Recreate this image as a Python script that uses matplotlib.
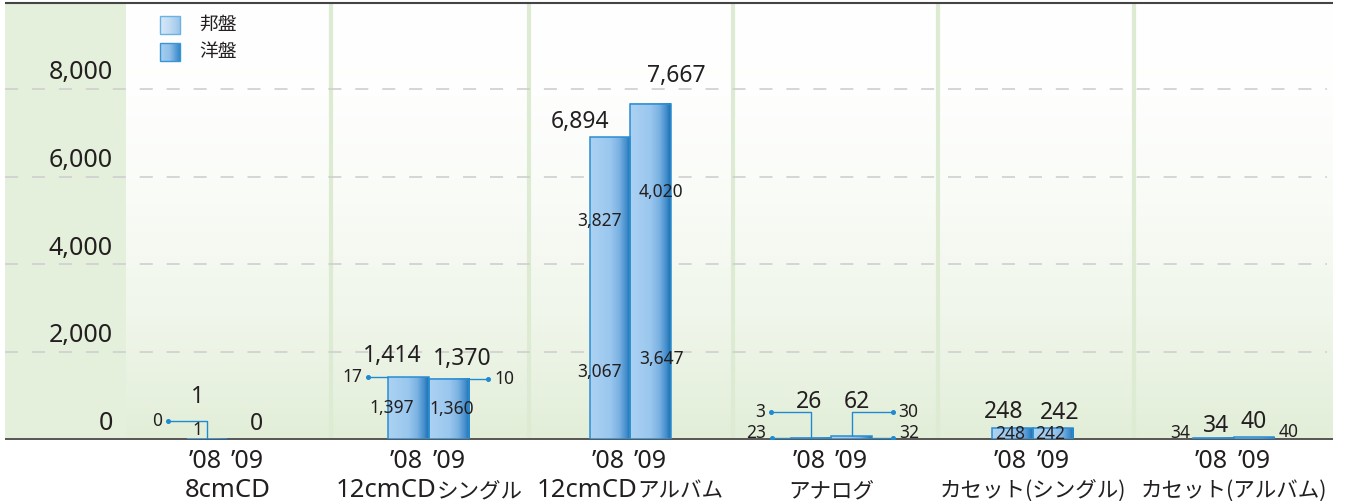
import numpy as np
import matplotlib
matplotlib.use("Agg")
import matplotlib.pyplot as plt
from matplotlib.colors import LinearSegmentedColormap, to_rgb
from matplotlib.patches import Rectangle

plt.rcParams["font.family"] = ["Noto Sans", "Noto Sans CJK JP", "DejaVu Sans"]
plt.rcParams["lines.scale_dashes"] = False

# ---- data -------------------------------------------------------------
categories = ["8cmCD", "12cmCDシングル", "12cmCDアルバム", "アナログ",
              "カセット(シングル)", "カセット(アルバム)"]
years = ["’08", "’09"]
series_names = ["邦盤", "洋盤"]
hoban_08 = [1, 1397, 3067, 23, 248, 34]
hoban_09 = [0, 1360, 3647, 32, 242, 40]
yoban_08 = [0, 17, 3827, 3, 0, 0]
yoban_09 = [0, 10, 4020, 30, 0, 0]
y_ticks = [0, 2000, 4000, 6000, 8000]

hoban = [hoban_08, hoban_09]
yoban = [yoban_08, yoban_09]

# ---- layout (pixels) --------------------------------------------------
W, H = 1363, 501
AX_L, AX_R, AX_T, AX_B = 5, 1333, 4, 439
CAT0, STEP = 227.5, 201.3          # first category centre, category pitch
PX_PER_UNIT = 87.5 / 2000          # vertical pixels per unit value
BW = 40.5 / STEP                   # bar width in category units

TEXT = "#231f20"
BLUE_EDGE = "#2a8dd2"
LEADER = "#1e8bd0"
LATIN_FONT = ["Noto Sans", "DejaVu Sans"]
KANA_FONT = ["Noto Sans CJK JP", "DejaVu Sans"]


def xd(px):
    return (px - CAT0) / STEP


def yd(py):
    return (AX_B - py) / PX_PER_UNIT


fig = plt.figure(figsize=(W / 100, H / 100), dpi=100)
ax = fig.add_axes([AX_L / W, 1 - AX_B / H, (AX_R - AX_L) / W, (AX_B - AX_T) / H])
ax.set_axis_off()
ax.set_autoscale_on(False)
XLIM = (xd(AX_L), xd(AX_R))
YLIM = (0, yd(AX_T))
ax.set_xlim(*XLIM)
ax.set_ylim(*YLIM)

# ---- background -------------------------------------------------------
ax.add_patch(Rectangle((XLIM[0], 0), xd(126) - XLIM[0], YLIM[1],
                       facecolor="#e4f0db", edgecolor="none", zorder=0))
g_top = np.array(to_rgb("#ffffff"))
g_bot = np.array(to_rgb("#e2eed8"))
f = np.linspace(0, 1, 300) ** 1.9
bg = (g_top[None, :] * (1 - f[:, None]) + g_bot[None, :] * f[:, None])[:, None, :]
ax.imshow(bg, extent=(xd(126), XLIM[1], 0, YLIM[1]), origin="upper",
          aspect="auto", interpolation="bilinear", zorder=0)

for sx in [331, 529, 733, 938, 1134]:
    ax.plot([xd(sx)] * 2, [0, YLIM[1]], color="#ddebd3", lw=3.0, zorder=1,
            solid_capstyle="butt")

for v in y_ticks[1:]:
    ax.plot([XLIM[0], xd(1327)], [v, v], color="#cfcfcf", lw=1.2,
            ls=(0, (9.4, 10.0)), zorder=1)

for v in y_ticks:
    ax.annotate(f"{v:,}", (xd(113), v), xytext=(0, 16), textcoords="offset pixels",
                ha="right", va="center", fontsize=18, color=TEXT, zorder=6)

# baseline
ax.plot(XLIM, [0, 0], color="#555555", lw=1.4, zorder=2, clip_on=False,
        solid_capstyle="butt")

# ---- bars -------------------------------------------------------------
bar_cmap = LinearSegmentedColormap.from_list(
    "bar", [(0.0, "#acd2f2"), (0.5, "#9ac7ee"), (0.72, "#7ab2e2"),
            (0.88, "#4891cf"), (1.0, "#1d70ad")])
grad_row = np.linspace(0, 1, 64)[None, :]

x_idx = np.arange(len(categories))
bar_x = [x_idx - BW / 2, x_idx + BW / 2]

for j in range(2):
    bottoms = np.zeros(len(categories))
    for series in (hoban[j], yoban[j]):
        bars = ax.bar(bar_x[j], series, width=BW, bottom=bottoms,
                      color="none", edgecolor="none", zorder=3)
        for rect in bars:
            if rect.get_height() > 0:
                x0 = rect.get_x()
                ax.imshow(grad_row, cmap=bar_cmap, aspect="auto",
                          interpolation="bilinear",
                          extent=(x0, x0 + rect.get_width(), rect.get_y(),
                                  rect.get_y() + rect.get_height()), zorder=3)
        bottoms = bottoms + np.array(series)
    totals = bottoms
    ax.bar(bar_x[j], totals, width=BW, fill=False, linewidth=1.1,
           edgecolor=[BLUE_EDGE if t > 0 else "none" for t in totals], zorder=4)

# total labels above each bar (pixel offsets from bar top)
total_offsets = [
    [(-10, 42), (-16, 21), (-30, 15), (-2, 36), (-9, 16), (2, 12)],
    [(9, 15), (13, 20), (26, 28), (5, 34), (7, 15), (-1, 15)],
]
for j in range(2):
    for i in range(len(categories)):
        tot = hoban[j][i] + yoban[j][i]
        dx, dy = total_offsets[j][i]
        ax.annotate(f"{tot:,}", (bar_x[j][i], tot), xytext=(dx, dy),
                    textcoords="offset pixels", ha="center", va="center",
                    fontsize=16.5, color=TEXT, zorder=6)

# segment labels placed inside the bars
inside_dx = {(1, 0): -17, (1, 1): 3, (2, 0): -10, (2, 1): 11, (4, 0): -2, (4, 1): -3}
for (i, j), dx in inside_dx.items():
    base = 0
    for series in (hoban[j], yoban[j]):
        v = series[i]
        if v >= 100:
            ax.annotate(f"{v:,}", (bar_x[j][i], base + v / 2), xytext=(dx, 0),
                        textcoords="offset pixels", ha="center", va="center",
                        fontsize=12.5, color=TEXT, zorder=6)
        base += v


def to_data(x, y, dx, dy):
    return x + dx / STEP, y + dy / PX_PER_UNIT


def leader(x, y, pts, text, side):
    xs, ys = zip(*[to_data(x, y, dx, dy) for dx, dy in pts])
    ax.plot(xs, ys, color=LEADER, lw=1.0, zorder=8, solid_capstyle="butt")
    ax.plot(xs[-1], ys[-1], "o", ms=2.6, color=LEADER, zorder=8)
    if text:
        ex, ey = pts[-1]
        gap = -6 if side == "left" else 6
        ax.annotate(text, (x, y), xytext=(ex + gap, ey), textcoords="offset pixels",
                    ha="right" if side == "left" else "left", va="center",
                    fontsize=12.5, color=TEXT, zorder=8)


def side_label(x, y, dx, dy, text, ha):
    ax.annotate(text, (x, y), xytext=(dx, dy), textcoords="offset pixels",
                ha=ha, va="center", fontsize=12.5, color=TEXT, zorder=8)


half = BW / 2
# 8cmCD '08
leader(bar_x[0][0], hoban_08[0] + yoban_08[0], [(0, 0), (0, 18), (-39, 18)],
       f"{yoban_08[0]:,}", "left")
side_label(bar_x[0][0], 0, -10, 9, f"{hoban_08[0]:,}", "center")
# 12cmCD single
leader(bar_x[0][1] - half, hoban_08[1] + yoban_08[1], [(0, 0), (-20, 0)],
       f"{yoban_08[1]:,}", "left")
leader(bar_x[1][1] + half, hoban_09[1] + yoban_09[1], [(0, 0), (19, 0)],
       f"{yoban_09[1]:,}", "right")
# analog
leader(bar_x[0][3], hoban_08[3] + yoban_08[3], [(0, 0), (0, 26), (-40, 26)],
       f"{yoban_08[3]:,}", "left")
leader(bar_x[0][3] - half, hoban_08[3], [(0, 0), (-19, 0)], "", "left")
side_label(bar_x[0][3] - half, hoban_08[3], -25, 5, f"{hoban_08[3]:,}", "right")
leader(bar_x[1][3], hoban_09[3] + yoban_09[3], [(0, 0), (0, 24), (41, 24)],
       f"{yoban_09[3]:,}", "right")
leader(bar_x[1][3] + half, hoban_09[3], [(0, 0), (21, 0)], "", "right")
side_label(bar_x[1][3] + half, hoban_09[3], 27, 5, f"{hoban_09[3]:,}", "left")
# cassette album
side_label(bar_x[0][5] - half, hoban_08[5], -3, 5, f"{hoban_08[5]:,}", "right")
side_label(bar_x[1][5] + half, hoban_09[5], 4, 5, f"{hoban_09[5]:,}", "left")

# top rule
ax.plot(XLIM, [yd(3)] * 2, color="#444444", lw=1.5, zorder=7, clip_on=False,
        solid_capstyle="butt")

# ---- category / year labels -------------------------------------------
for i in range(len(categories)):
    for j, yr in enumerate(years):
        ax.annotate(yr, (bar_x[j][i], 0), xytext=(-2 if j == 0 else 0, -22),
                    textcoords="offset pixels", ha="center", va="center",
                    fontsize=18, color=TEXT, annotation_clip=False)


def split_runs(s):
    runs = []
    for ch in s:
        kind = "L" if (ch.isascii() and ch not in "()") else "K"
        if runs and runs[-1][0] == kind:
            runs[-1][1] += ch
        else:
            runs.append([kind, ch])
    return runs


# category names: Latin and kana runs set side by side on one baseline
renderer = fig.canvas.get_renderer()
for i, cat in enumerate(categories):
    pieces = []
    for kind, s in split_runs(cat):
        t = ax.annotate(s, (i, 0), xytext=(0, -58), textcoords="offset pixels",
                        ha="left", va="baseline", color=TEXT,
                        fontsize=18.5 if kind == "L" else 15.5,
                        family=LATIN_FONT if kind == "L" else KANA_FONT,
                        annotation_clip=False)
        pieces.append(t)
    widths = [p.get_window_extent(renderer).width for p in pieces]
    start = -sum(widths) / 2
    for p, w in zip(pieces, widths):
        p.xyann = (start, -58)
        start += w

# ---- legend -----------------------------------------------------------
legend_cmaps = [
    LinearSegmentedColormap.from_list("l0", ["#d8e9f8", "#c0dbf2", "#9cc6ea"]),
    LinearSegmentedColormap.from_list("l1", ["#a9cff0", "#8fbfe8", "#3587c7"]),
]
legend_edges = ["#6ab2e4", "#3a95d6"]
for k, name in enumerate(series_names):
    top_px = 16 + 27 * k
    x0, x1 = xd(160), xd(180)
    y0, y1 = yd(top_px + 18), yd(top_px)
    ax.imshow(grad_row, cmap=legend_cmaps[k], aspect="auto", interpolation="bilinear",
              extent=(x0, x1, y0, y1), zorder=6)
    ax.add_patch(Rectangle((x0, y0), x1 - x0, y1 - y0, fill=False,
                           edgecolor=legend_edges[k], lw=1.0, zorder=7))
    ax.text(xd(199), yd(top_px + 9), name, ha="left", va="center",
            fontsize=13.5, color=TEXT, zorder=7)

ax.set_xlim(*XLIM)
ax.set_ylim(*YLIM)
fig.savefig("out.png", dpi=100)
